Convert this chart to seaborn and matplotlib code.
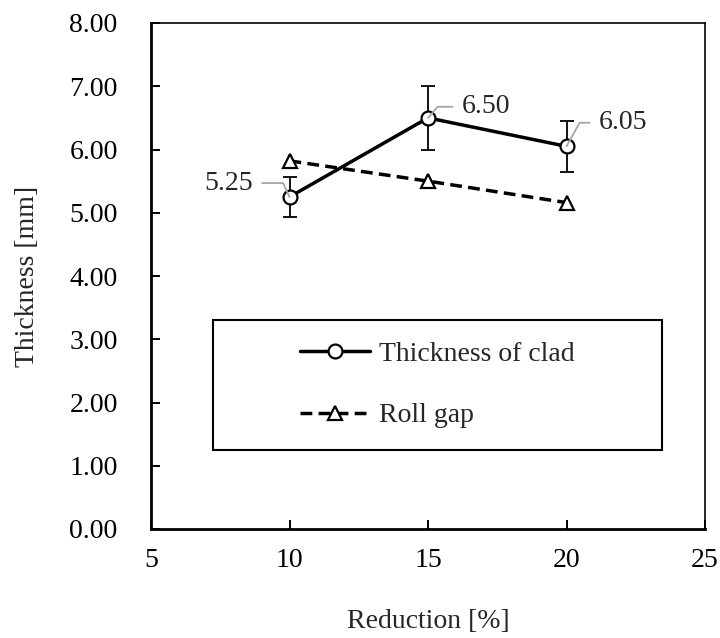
import numpy as np
import pandas as pd
import seaborn as sns
import matplotlib.pyplot as plt
from matplotlib.patches import Rectangle

# values
reduction = [10, 15, 20]
clad_thickness = [5.25, 6.50, 6.05]
clad_error = [0.31, 0.50, 0.40]
roll_gap = [5.82, 5.50, 5.16]
clad_labels = ["5.25", "6.50", "6.05"]

x_ticks = [5, 10, 15, 20, 25]
y_ticks = [0, 1, 2, 3, 4, 5, 6, 7, 8]

df = pd.DataFrame({
    "Reduction": reduction,
    "Clad": clad_thickness,
    "Err": clad_error,
    "RollGap": roll_gap,
})

sns.set_theme(style="ticks")
plt.rcParams["font.family"] = ["Liberation Serif", "DejaVu Serif"]
plt.rcParams["font.size"] = 20

fig = plt.figure(figsize=(7.2, 6.38), dpi=100)
ax = fig.add_axes([151 / 720, (638 - 529) / 638, 554 / 720, 506 / 638])

# error bars first so the markers sit on top
ax.errorbar(df["Reduction"], df["Clad"], yerr=df["Err"], fmt="none",
            ecolor="black", elinewidth=1.3, capsize=4.8, capthick=1.3, zorder=1)

sns.lineplot(data=df, x="Reduction", y="Clad", ax=ax, color="black",
             linewidth=2.5, marker="o", markersize=10, markerfacecolor="white",
             markeredgecolor="black", markeredgewidth=1.6, zorder=3,
             label="Thickness of clad", legend=False)
line_clad = ax.lines[-1]

sns.lineplot(data=df, x="Reduction", y="RollGap", ax=ax, color="black",
             linewidth=2.5, marker="^", markersize=10, markerfacecolor="white",
             markeredgecolor="black", markeredgewidth=1.6, zorder=2,
             label="Roll gap", legend=False)
line_gap = ax.lines[-1]
line_gap.set_dashes((3.4, 1.8))

# data labels with grey leader lines
offsets = [(-26, 10), (24, 8), (23, 17)]
angles = [115, 49, 61]
aligns = ["right", "left", "left"]
for xv, yv, txt, off, ang, ha in zip(reduction, clad_thickness, clad_labels,
                                     offsets, angles, aligns):
    ax.annotate(txt, xy=(xv, yv), xytext=off, textcoords="offset points",
                ha=ha, va="center", fontsize=20,
                arrowprops=dict(arrowstyle="-", color="#a6a6a6", lw=1.3,
                                connectionstyle=f"angle,angleA=0,angleB={ang},rad=0",
                                shrinkA=4, shrinkB=0))

ax.set_xlim(5, 25)
ax.set_ylim(0, 8)
ax.set_xticks(x_ticks)
ax.set_yticks(y_ticks)
ax.set_xticklabels([str(v) for v in x_ticks])
ax.set_yticklabels([f"{v:.2f}" for v in y_ticks])
ax.tick_params(axis="both", direction="in", length=6.5, width=1.4,
               colors="black", labelsize=20)
ax.tick_params(axis="y", pad=24)
ax.tick_params(axis="x", pad=14)

for side in ["left", "bottom"]:
    ax.spines[side].set_linewidth(2.0)
    ax.spines[side].set_color("black")
for side in ["top", "right"]:
    ax.spines[side].set_visible(True)
    ax.spines[side].set_linewidth(1.2)
    ax.spines[side].set_color("black")

ax.set_xlabel("")
ax.set_ylabel("")
fig.text(28 / 720, 1 - 276 / 638, "Thickness [mm]", rotation=90,
         ha="center", va="center", fontsize=20)
fig.text((151 + 705) / 2 / 720, 1 - 622 / 638, "Reduction [%]",
         ha="center", va="center", fontsize=20)

# legend frame and entries
bx0, bx1 = (213 - 151) / 554, (662 - 151) / 554
by0, by1 = (529 - 450) / 506, (529 - 320) / 506
ax.add_patch(Rectangle((bx0, by0), bx1 - bx0, by1 - by0, transform=ax.transAxes,
                       fill=True, facecolor="white", edgecolor="black",
                       linewidth=1.5, zorder=4))
leg = ax.legend(handles=[line_clad, line_gap],
                labels=["Thickness of clad", "Roll gap"],
                loc="center", bbox_to_anchor=((bx0 + bx1) / 2, (by0 + by1) / 2),
                frameon=False, fontsize=20, handlelength=2.5,
                handletextpad=0.35, labelspacing=1.3, numpoints=1,
                borderpad=0)
leg.set_zorder(5)

fig.savefig("out.png", dpi=100)
